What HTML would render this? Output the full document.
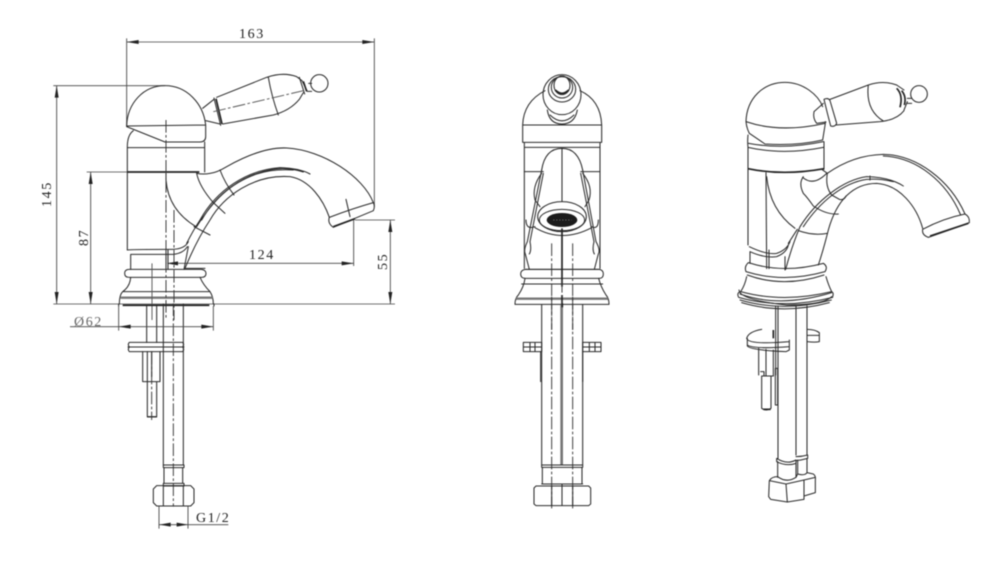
<!DOCTYPE html>
<html><head><meta charset="utf-8"><style>
html,body{margin:0;padding:0;background:#fff;width:1000px;height:568px;overflow:hidden}
svg{display:block;filter:blur(.4px)}
.d{fill:none;stroke:#2a2a2a;stroke-width:3.1;stroke-linejoin:round;stroke-linecap:round}
.t{fill:none;stroke:#444;stroke-width:2.6}
.g{fill:none;stroke:#555;stroke-width:2.8}
.c{fill:none;stroke:#333;stroke-width:2.8;stroke-dasharray:38 7 8 7}
.k{fill:none;stroke:#222;stroke-width:5}
.b{fill:none;stroke:#777;stroke-width:7}
text{font-family:"Liberation Serif",serif;font-size:14px;fill:#222;letter-spacing:1.6px}
.a{fill:#222}
</style></head><body>
<svg width="1000" height="568" viewBox="0 0 1000 568" xmlns="http://www.w3.org/2000/svg">
<rect width="1000" height="568" fill="#fff"/>

<!-- LEFT VIEW TOP -->
<g transform="translate(40 20) scale(.33333)">
<!-- dimensions -->
<path class="t" d="M260 55V320M1003 55V560M260 66H1003M40 197H375M40 852H1065M50 197V852M140 456H262M152 456V852M945 600H1065M1051 600V852M941 600V738M385 730H941"/>
<path class="a" d="M260 66l36-6v12zM1003 66l-36-6v12zM50 197l-6 36h12zM50 852l-6-36h12zM152 456l-6 36h12zM152 852l-6-36h12zM1051 600l-6 36h12zM1051 852l-6-36h12zM941 730l-36-6v12zM380 730l34-6v12z"/>
<!-- dome -->
<path class="d" d="M260 318C262 250 310 197 375 197C440 197 490 250 497 315ZM260 320L375 366H480Q497 366 497 350V315"/>
<path class="d" d="M280 332Q262 345 262 380V690M494 366V456M262 383H494"/>
<path class="k" d="M262 456H478"/>
<!-- handle -->
<path class="d" d="M488 265L522 238M497 302L540 312M522 234L542 316M530 232L680 172Q730 155 770 170L786 182M548 312L700 285Q750 272 778 238L790 218M685 172Q695 230 715 285M786 182L802 214M778 172L794 222M806 190H815M802 214H815"/>
<path class="k" d="M528 236L546 312M790 184L800 214"/>
<circle class="d" cx="838" cy="190" r="26"/>
<path class="g" stroke-dasharray="38 7 8 7" d="M520 275L790 212"/>
<!-- spout -->
<path class="d" d="M470 460Q490 464 510 460Q530 458 560 440C640 395 700 382 740 384C850 390 970 470 1000 548"/>
<path class="d" d="M1000 548Q940 565 868 592Q862 610 880 622L1000 572Q1006 560 1000 548Z"/>
<path class="k" d="M880 620L945 596"/>
<path class="d" d="M868 592C850 540 810 480 750 470C640 462 550 530 510 600Q470 660 435 745"/>
<path class="d" d="M810 462Q780 445 720 443C620 450 530 510 480 600Q460 630 440 670M790 456Q740 440 700 448C610 462 530 520 485 600M760 450Q700 446 650 462C570 490 520 540 470 620"/>
<path class="d" d="M470 460Q478 500 520 548M540 450Q555 490 582 525M520 548L555 580M462 620L510 645M378 460V480Q385 570 468 620"/>
<path class="d" d="M918 538L930 590"/>
<!-- lower body -->
<path class="d" d="M262 690Q265 688 385 688H400Q435 686 445 665M272 703H400Q430 700 442 680M272 705V748M445 680L432 748M435 745H495"/>
<path class="d" d="M378 690V748M384 690V748"/>
<path class="d" d="M268 748H484Q498 750 498 760Q498 772 484 772H268Q254 772 254 760Q254 748 268 748Z"/>
<path class="d" d="M272 772Q270 800 248 815Q238 825 238 852M480 772Q490 795 510 815Q520 830 520 852M250 815H510"/>
<path class="b" d="M242 833H518"/>
<path class="c" d="M378 300V900M402 570V900"/>
<path class="g" d="M336 730V900"/>
<path class="k" d="M248 856H508"/>
</g>

<!-- LEFT VIEW BOTTOM -->
<g transform="translate(60 290) scale(.33333)">
<path class="d" d="M176 42V48M462 42V48M310 42V525M370 42V525M260 48V157M290 48V157"/>
<path class="d" d="M208 157H368Q374 164 368 171Q374 178 368 185H208Q202 178 208 171Q202 164 208 157ZM204 171H372"/>
<path class="d" d="M248 185V275H300V185M262 275V380H290V275M262 381H290M262 185V275M275 185V260"/>
<path class="c" d="M340 40V650M275 185V390"/>
<path class="d" d="M310 525H372V533H310ZM312 533V580M368 533V580M310 580H372V588H310Z"/>
<path class="d" d="M290 587H392L402 597V638L392 648H290L280 638V597ZM310 587V648M370 587V648"/>
<path class="t" d="M176 48V122M460 48V122M30 110H460M297 648V716M384 648V716M297 704H505"/>
<path class="a" d="M176 110l36-6v12zM460 110l-36-6v12zM298 704l34-6v12zM384 704l-34-6v12z"/>
</g>
<text x="74" y="326" style="fill:#666">Ø62</text>
<text x="196" y="522">G1/2</text>
<text x="239" y="38">163</text>
<text x="249" y="259">124</text>
<text transform="translate(51 207) rotate(-90)">145</text>
<text transform="translate(88 246) rotate(-90)">87</text>
<text transform="translate(387 270) rotate(-90)">55</text>

<!-- MIDDLE VIEW TOP -->
<g transform="translate(490 60) scale(.33333)">
<path class="d" d="M98 195C100 140 130 110 165 92M270 92C310 110 333 145 335 195M98 195H335V247H98ZM103 247V625M330 247V625M103 262H330"/>
<ellipse class="d" cx="216" cy="104" rx="57" ry="60"/>
<ellipse class="d" cx="216" cy="88" rx="41" ry="38"/>
<ellipse class="d" cx="216" cy="82" rx="32" ry="32"/>
<ellipse class="d" cx="216" cy="76" rx="24" ry="28"/>
<path class="k" d="M196 90Q216 110 236 90"/>
<path class="d" d="M172 150Q178 192 216 192Q254 192 262 150M180 165Q216 200 252 165"/>
<path class="d" d="M155 330Q165 265 216 265Q265 265 278 330M216 265V425M103 335H160M272 335H330"/>
<path class="d" d="M155 340Q125 380 135 420L150 440M278 340Q310 380 297 420L285 440"/>
<path class="d" d="M155 330L112 545Q100 570 106 582L118 628M160 340L120 545Q125 570 118 582M278 330L318 545Q332 570 325 582L313 628M272 340L312 545Q306 570 313 582"/>
<path class="d" d="M108 480Q108 510 135 500M325 480Q325 510 305 500"/>
<ellipse class="d" cx="216" cy="470" rx="73" ry="45"/>
<ellipse class="d" cx="216" cy="480" rx="68" ry="32"/>
<ellipse cx="216" cy="480" rx="46" ry="21" fill="#1b1b1b"/>
<path d="M190 480H245" stroke="#999" stroke-width="2" stroke-dasharray="3 6"/>
<path class="d" d="M135 503Q216 550 305 503M106 628H328"/>
<path class="d" d="M106 628H328Q340 630 340 642Q340 655 328 655H106Q92 655 92 642Q92 630 106 628Z"/>
<path class="d" d="M105 655Q102 680 85 705Q75 715 75 732M326 655Q332 680 348 705Q357 715 357 732M95 672H338"/>
<path class="b" d="M78 716H354"/>
<path class="d" d="M75 733H357"/>
<path class="c" d="M185 550V810M248 550V810"/>
<path class="k" d="M216 505V680M216 705V745"/>
<path class="c" d="M216 660V740"/>
</g>

<!-- MIDDLE VIEW BOTTOM -->
<g transform="translate(510 300) scale(.33333)">
<path class="d" d="M95 14V495M218 14V495"/>
<path d="M155 14V495" stroke="#777" stroke-width="8"/>
<path class="k" d="M157 10V22"/>
<path class="c" d="M125 -10V625M188 -10V625"/>
<path class="d" d="M40 127H95V155H40ZM40 141H95M60 127V155M75 127V155M218 127H273V155H218ZM218 141H273M238 127V155M255 127V155"/>
<path class="d" d="M92 155V245M218 155V245"/>
<path class="d" d="M95 495H218V502H95ZM97 502V552M216 502V552M95 552H218"/>
<path class="d" d="M78 558H236L242 564V612L236 617H78L72 612V564ZM125 558V617M188 558V617M156 552V617"/>
</g>

<!-- RIGHT VIEW TOP -->
<g transform="translate(720 70) scale(.33333)">
<path class="d" d="M78 155C80 85 130 37 195 37C250 37 295 75 308 110M78 155Q180 190 315 160M78 155Q80 175 88 190L135 222Q230 228 308 210L316 160M316 160V155"/>
<path class="d" d="M84 195Q82 215 84 232V525M312 215V298M84 232Q190 256 310 232M86 220Q190 240 310 215"/>
<path class="k" d="M84 296Q190 318 312 296"/>
<path class="d" d="M138 308L140 596M147 540V596"/>
<!-- handle -->
<path class="d" d="M282 125L310 100M290 160L318 156M282 125Q278 145 290 160"/>
<path class="d" d="M312 88Q325 82 330 92L350 160Q345 172 332 168Q322 130 312 88Z"/>
<path class="d" d="M330 88L445 45Q490 30 530 45M348 165L480 155Q530 150 552 122M445 45Q436 120 490 153M530 45L552 60M552 120L562 95"/>
<path class="k" d="M530 55Q550 75 540 112M545 62Q560 80 553 105"/>
<path class="d" d="M562 85H575M562 100H575"/>
<circle class="d" cx="597" cy="72" r="25"/>
<!-- spout -->
<path class="d" d="M305 298L322 310Q400 255 490 253C590 255 690 330 735 432M490 258C590 262 680 335 722 435"/>
<path class="d" d="M608 478Q670 445 735 432Q750 440 748 458Q690 480 625 502Q605 495 608 478Z"/>
<path class="k" d="M630 498L745 460"/>
<path class="d" d="M608 475C590 410 540 345 470 340C400 340 350 390 325 480Q310 540 295 585"/>
<path class="d" d="M550 348Q510 322 440 320C370 330 290 390 240 470Q215 530 197 598M520 335Q480 325 440 328C370 338 300 395 250 470M450 318V330"/>
<path class="d" d="M322 310Q315 350 335 375L358 388Q372 392 378 378M250 320Q235 340 250 370Q262 382 280 408M248 322Q280 350 320 310M280 408Q320 435 355 432M235 482Q280 498 322 490M140 320Q150 420 225 475"/>
<path class="d" d="M88 530Q140 555 170 550Q200 540 210 515M90 545Q135 565 170 560Q200 548 205 525M90 545V580M195 560V600M205 520L232 478"/>
<path class="d" d="M85 578Q72 590 78 605Q190 640 315 605Q325 590 310 580M85 578Q190 612 310 580M82 615Q190 655 312 615"/>
<path class="d" d="M80 620Q75 645 62 665M318 620Q325 645 335 665"/>
<path class="d" d="M62 665Q190 700 335 665M55 680Q50 668 62 665M338 680Q342 668 335 665"/>
<path class="d" d="M56 682Q190 720 338 682M60 690Q190 728 334 690M65 698Q190 735 328 698"/>
</g>

<!-- RIGHT VIEW BOTTOM -->
<g transform="translate(730 290) scale(.33333)">
<path class="d" d="M27 0Q30 30 170 45Q280 45 305 20M30 12Q150 55 305 8"/>
<path class="d" d="M137 48V255M144 48V505M198 48V495M231 48V495"/>
<path class="d" d="M95 118Q55 125 50 145Q55 165 178 155M178 150V180L168 185Q60 180 52 168V145M52 165Q70 178 178 170"/>
<path class="d" d="M232 118Q255 118 268 128V155Q255 158 232 155M232 136H268"/>
<path class="d" d="M86 175V255M108 178V258M130 180V258M137 235H143V345H136V235"/>
<path class="d" d="M95 258V355Q108 365 123 355V258M95 258H130M92 245H102V258"/>
<path class="k" d="M100 358H122"/>
<path class="k" d="M130 120V145"/>
<path class="d" d="M140 505Q170 525 198 510V520Q170 530 140 515ZM198 500Q215 500 233 495V505Q215 510 198 512"/>
<path class="d" d="M143 515V562M198 520V562M203 510V552M231 505V548"/>
<path class="d" d="M118 572Q125 560 143 560Q170 580 198 562L203 552Q225 558 231 548L250 552Q258 558 256 570V608L222 618V628L172 636L122 628L116 620ZM118 572L168 582L222 570L256 562M168 582L172 636M222 570V618"/>
</g>
</svg>
</body></html>
